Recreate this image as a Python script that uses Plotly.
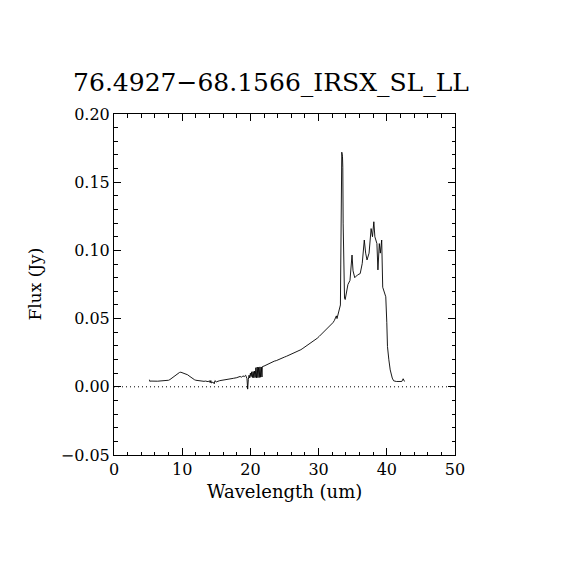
import plotly.graph_objects as go

title_text = "76.4927\u221268.1566_IRSX_SL_LL"
x_label = "Wavelength (um)"
y_label = "Flux (Jy)"

wavelength = [
    5.2, 5.25, 5.4, 5.6, 5.8, 6.0, 6.2, 6.4, 6.6, 6.8, 7.0, 7.2, 7.4, 7.6, 7.8,
    8.0, 8.2, 8.4, 8.6, 8.8, 9.0, 9.2, 9.4, 9.6, 9.8, 10.0, 10.2, 10.4, 10.6,
    10.8, 11.0, 11.2, 11.4, 11.6, 11.8, 12.0, 12.2, 12.4, 12.6, 12.8, 13.0,
    13.2, 13.4, 13.6, 13.8, 14.0, 14.1, 14.2, 14.3, 14.5, 14.7, 14.8, 15.0,
    15.5, 16.0, 16.5, 17.0, 17.5, 18.0, 18.3, 18.5, 18.7, 18.9, 19.1, 19.3,
    19.5, 19.6, 19.7, 19.8, 19.9, 20.0, 20.1, 20.2, 20.3, 20.4, 20.5, 20.6,
    20.7, 20.8, 20.9, 21.0, 21.1, 21.2, 21.3, 21.4, 21.5, 21.6, 21.7, 21.75,
    22.0, 22.3, 22.6, 22.9, 23.2, 23.5, 23.8, 24.1, 24.4, 24.7, 25.0, 25.3,
    25.6, 25.9, 26.2, 26.5, 26.8, 27.1, 27.4, 27.7, 28.0, 28.3, 28.6, 28.9,
    29.2, 29.5, 29.8, 30.1, 30.4, 30.7, 31.0, 31.3, 31.6, 31.9, 32.1, 32.3,
    32.5, 32.6, 32.7, 32.9, 33.0, 33.1, 33.2, 33.25, 33.3, 33.4, 33.5, 33.55,
    33.6, 33.7, 33.8, 33.9, 34.1, 34.3, 34.6, 34.9, 35.05, 35.3, 35.7, 36.1,
    36.4, 36.7, 36.9, 37.1, 37.4, 37.7, 37.9, 38.1, 38.25, 38.4, 38.55, 38.7,
    38.9, 39.05, 39.25, 39.4, 39.7, 39.85, 40.0, 40.1, 40.3, 40.5, 40.8, 41.0,
    41.4, 41.8, 42.2, 42.4, 42.6,
]

flux = [
    0.0052, 0.0040, 0.0042, 0.0041, 0.0042, 0.0041, 0.0042, 0.0041, 0.0042,
    0.0043, 0.0042, 0.0043, 0.0043, 0.0044, 0.0046, 0.0048, 0.0053, 0.0060,
    0.0068, 0.0077, 0.0086, 0.0094, 0.0100, 0.0105, 0.0107, 0.0103, 0.0100,
    0.0098, 0.0095, 0.0088, 0.0080, 0.0072, 0.0064, 0.0057, 0.0052, 0.0048,
    0.0046, 0.0044, 0.0043, 0.0043, 0.0041, 0.0040, 0.0042, 0.0040, 0.0038,
    0.0044, 0.0030, 0.0046, 0.0028, 0.0035, 0.0022, 0.0045, 0.0036, 0.0045,
    0.0048, 0.0052, 0.0057, 0.0062, 0.0067, 0.0072, 0.0076, 0.0070, 0.0080,
    0.0075, 0.0085, 0.0060, -0.0017, 0.0055, 0.0085, 0.0065, 0.0100, 0.0075,
    0.0110, 0.0068, 0.0112, 0.0066, 0.0115, 0.0068, 0.0140, 0.0066, 0.0145,
    0.0067, 0.0143, 0.0068, 0.0146, 0.0070, 0.0145, 0.0072, 0.0148, 0.0152,
    0.0160, 0.0167, 0.0176, 0.0180, 0.0188, 0.0192, 0.0200, 0.0206, 0.0210,
    0.0218, 0.0224, 0.0230, 0.0238, 0.0244, 0.0250, 0.0256, 0.0264, 0.0272,
    0.0282, 0.0292, 0.0300, 0.0312, 0.0322, 0.0334, 0.0345, 0.0356, 0.0370,
    0.0385, 0.0400, 0.0415, 0.0428, 0.0442, 0.0456, 0.0470, 0.0485, 0.0510,
    0.0520, 0.0500, 0.0545, 0.0560, 0.0580, 0.0600, 0.0900, 0.1310, 0.1720,
    0.1690, 0.1610, 0.1200, 0.0900, 0.0650, 0.0640, 0.0690, 0.0750, 0.0780,
    0.0966, 0.0850, 0.0800, 0.0820, 0.0830, 0.0905, 0.1076, 0.0980, 0.0930,
    0.0980, 0.1160, 0.1100, 0.1210, 0.1100, 0.1076, 0.1050, 0.0857, 0.1050,
    0.0980, 0.1076, 0.0730, 0.0680, 0.0660, 0.0470, 0.0295, 0.0198, 0.0124,
    0.0064, 0.0044, 0.0039, 0.0039, 0.0039, 0.0059, 0.0039,
]

x_range = [0, 50]
y_range = [-0.05, 0.20]
x_ticks = [0, 10, 20, 30, 40, 50]
y_ticks = [-0.05, 0.00, 0.05, 0.10, 0.15, 0.20]
y_ticklabels = ["\u22120.05", "0.00", "0.05", "0.10", "0.15", "0.20"]
zero_x = [0, 50]
zero_y = [0, 0]

FONT = "DejaVu Serif"
W = 562
H = 562
L = 106
T = 106
P = 341

fig = go.Figure()
fig.add_trace(go.Scatter(x=zero_x, y=zero_y, mode="lines",
                         line=dict(color="black", width=1, dash="1px,3px"),
                         showlegend=False, hoverinfo="skip"))
fig.add_trace(go.Scatter(x=wavelength, y=flux, mode="lines",
                         line=dict(color="black", width=0.9),
                         showlegend=False))
fig.add_trace(go.Scatter(x=zero_x, y=zero_y, xaxis="x2", yaxis="y2",
                         mode="lines", line=dict(width=0), opacity=0,
                         showlegend=False, hoverinfo="skip"))

common = dict(showline=True, linecolor="black", linewidth=1, ticks="inside",
              ticklen=7, tickwidth=1, tickcolor="black", showgrid=False,
              zeroline=False, automargin=False)

fig.update_layout(
    width=W, height=H,
    margin=dict(l=L, r=W - L - P, t=T, b=H - T - P),
    paper_bgcolor="white", plot_bgcolor="white",
    font=dict(family=FONT, color="black", size=16),
    title=dict(text=title_text, x=(271 - 8) / W, xanchor="center",
               y=1 - (82 - 8) / H, yanchor="middle",
               font=dict(family=FONT, size=25, color="black")),
    xaxis=dict(range=x_range, tickvals=x_ticks, **common,
               minor=dict(dtick=2, ticklen=3.5, ticks="inside", tickcolor="black"),
               tickfont=dict(size=16, family=FONT)),
    yaxis=dict(range=y_range, tickvals=y_ticks, ticktext=y_ticklabels, **common,
               minor=dict(dtick=0.01, ticklen=3.5, ticks="inside", tickcolor="black"),
               tickfont=dict(size=16, family=FONT)),
    xaxis2=dict(range=x_range, tickvals=x_ticks, overlaying="x", side="top",
                anchor="y2", showticklabels=False, **common,
                minor=dict(dtick=2, ticklen=3.5, ticks="inside", tickcolor="black")),
    yaxis2=dict(range=y_range, tickvals=y_ticks, overlaying="y", side="right",
                anchor="x2", showticklabels=False, **common,
                minor=dict(dtick=0.01, ticklen=3.5, ticks="inside", tickcolor="black")),
    annotations=[
        dict(text=x_label, xref="paper", yref="paper", x=0.5, y=-(492 - 455) / P,
             xanchor="center", yanchor="middle", showarrow=False,
             font=dict(family=FONT, size=18, color="black")),
        dict(text=y_label, xref="paper", yref="paper", x=-(114 - 34) / P, y=0.5,
             xanchor="center", yanchor="middle", showarrow=False, textangle=-90,
             font=dict(family=FONT, size=17, color="black")),
    ],
)

fig.write_html("out.html")
